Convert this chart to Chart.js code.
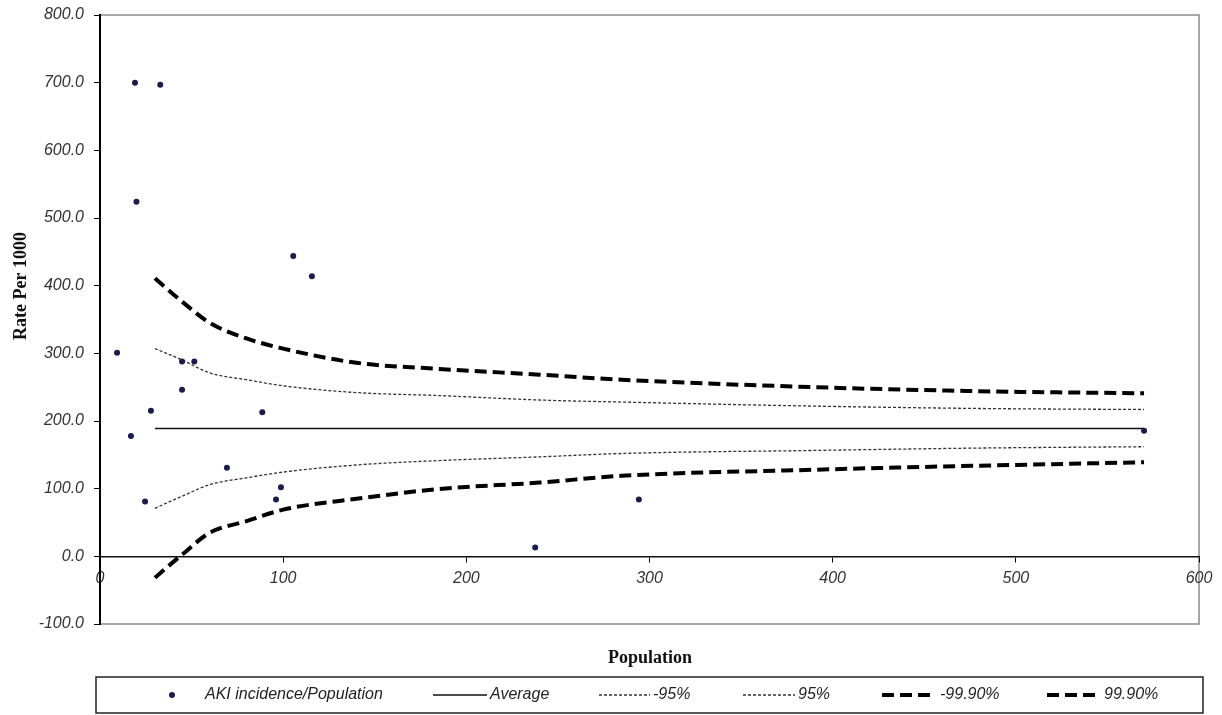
<!DOCTYPE html>
<html>
<head>
<meta charset="utf-8">
<script src="https://cdn.jsdelivr.net/npm/chart.js@4.4.1/dist/chart.umd.min.js"></script>
<style>
  html, body { margin: 0; padding: 0; background: #fff; }
  canvas { display: block; }
</style>
</head>
<body>
<canvas id="funnelChart" width="1222" height="715"></canvas>
<script>
// AKI incidence per practice (population, rate per 1000)
const akiPopulation = [9.3, 19.1, 19.9, 32.9, 16.9, 24.6, 27.8, 44.8, 51.5, 44.8, 69.3, 88.6, 96.1, 98.8, 105.5, 115.7, 237.6, 294.2, 570];
const akiRate = [301, 700, 524, 697, 178, 81, 215, 288, 288, 246, 131, 213, 84, 102, 444, 414, 13, 84, 185.5];

// average line
const avgPopulation = [30, 570];
const avgRate = [189, 189];

// control limits
const limitPopulation = [30, 45, 60, 80, 100, 140, 185, 240, 285, 390, 480, 570];
const lower95 = [71, 89, 106, 116, 124.5, 135, 141.5, 147, 152, 156.5, 160, 162];
const upper95 = [307, 290, 271, 261, 252, 242, 237.6, 231, 228, 222, 218.5, 217];
const lower999 = [-31.5, 3, 35, 52, 69, 85, 99.5, 109, 119, 128, 134, 139];
const upper999 = [411, 376, 345, 322, 307, 286, 277, 268.5, 261, 250, 244, 241];

const yTicks = [-100, 0, 100, 200, 300, 400, 500, 600, 700, 800];
const xTicks = [0, 100, 200, 300, 400, 500, 600];

const toPoints = (xs, ys) => xs.map((x, i) => ({ x: x, y: ys[i] }));

const tickFont = { family: 'Liberation Sans, Arial, sans-serif', size: 16, style: 'italic' };

// frame, axis titles and the boxed legend at the bottom
const decorations = {
  id: 'decorations',
  beforeDraw(chart) {
    const { ctx, chartArea: a } = chart;
    ctx.save();
    ctx.fillStyle = '#fff';
    ctx.fillRect(0, 0, chart.width, chart.height);
    ctx.strokeStyle = '#8a8a8a';
    ctx.lineWidth = 1.5;
    ctx.strokeRect(a.left, a.top, a.right - a.left, a.bottom - a.top);
    ctx.restore();
  },
  afterDraw(chart) {
    const { ctx } = chart;
    ctx.save();
    ctx.fillStyle = '#111';
    ctx.font = 'bold 18px "Liberation Serif", "Times New Roman", serif';
    ctx.textAlign = 'center';
    ctx.textBaseline = 'middle';
    ctx.fillText('Population', 650, 658);
    ctx.translate(21, 286);
    ctx.rotate(-Math.PI / 2);
    ctx.fillText('Rate Per 1000', 0, 0);
    ctx.restore();

    // legend box
    ctx.save();
    ctx.strokeStyle = '#222';
    ctx.lineWidth = 1.5;
    ctx.strokeRect(96, 677, 1107, 36);
    const cy = 695;
    const slots = [
      { x: 172, w: 0, tx: 205 },
      { x: 433, w: 54, tx: 490 },
      { x: 599, w: 51, tx: 653 },
      { x: 743, w: 52, tx: 798 },
      { x: 882, w: 48, tx: 940 },
      { x: 1047, w: 48, tx: 1104 }
    ];
    chart.data.datasets.forEach((ds, i) => {
      const s = slots[i];
      if (ds.showLine === false) {
        ctx.fillStyle = ds.backgroundColor;
        ctx.beginPath();
        ctx.arc(s.x, cy, 3, 0, Math.PI * 2);
        ctx.fill();
      } else {
        ctx.strokeStyle = ds.borderColor;
        ctx.lineWidth = ds.borderWidth;
        ctx.setLineDash(ds.borderDash || []);
        ctx.beginPath();
        ctx.moveTo(s.x, cy);
        ctx.lineTo(s.x + s.w, cy);
        ctx.stroke();
        ctx.setLineDash([]);
      }
      ctx.fillStyle = '#222';
      ctx.font = 'italic 16px "Liberation Sans", Arial, sans-serif';
      ctx.textAlign = 'left';
      ctx.textBaseline = 'middle';
      ctx.fillText(ds.label, s.tx, cy);
    });
    ctx.restore();
  }
};

new Chart(document.getElementById('funnelChart').getContext('2d'), {
  type: 'scatter',
  data: {
    datasets: [
      {
        label: 'AKI incidence/Population',
        data: toPoints(akiPopulation, akiRate),
        showLine: false,
        pointRadius: 3,
        pointHoverRadius: 3,
        backgroundColor: '#1c1c4a',
        borderColor: '#1c1c4a',
        borderWidth: 0
      },
      {
        label: 'Average',
        data: toPoints(avgPopulation, avgRate),
        showLine: true,
        pointRadius: 0,
        borderColor: '#111',
        borderWidth: 1.5
      },
      {
        label: '-95%',
        data: toPoints(limitPopulation, lower95),
        showLine: true,
        pointRadius: 0,
        borderColor: '#333',
        borderWidth: 1.3,
        borderDash: [3, 2],
        cubicInterpolationMode: 'monotone'
      },
      {
        label: '95%',
        data: toPoints(limitPopulation, upper95),
        showLine: true,
        pointRadius: 0,
        borderColor: '#333',
        borderWidth: 1.3,
        borderDash: [3, 2],
        cubicInterpolationMode: 'monotone'
      },
      {
        label: '-99.90%',
        data: toPoints(limitPopulation, lower999),
        showLine: true,
        pointRadius: 0,
        borderColor: '#000',
        borderWidth: 4,
        borderDash: [12, 6],
        cubicInterpolationMode: 'monotone'
      },
      {
        label: '99.90%',
        data: toPoints(limitPopulation, upper999),
        showLine: true,
        pointRadius: 0,
        borderColor: '#000',
        borderWidth: 4,
        borderDash: [12, 6],
        cubicInterpolationMode: 'monotone'
      }
    ]
  },
  options: {
    responsive: false,
    animation: false,
    devicePixelRatio: 1,
    layout: { padding: { left: 0, top: 15, right: 23, bottom: 91 } },
    plugins: {
      legend: { display: false },
      tooltip: { enabled: false }
    },
    scales: {
      x: {
        type: 'linear',
        position: { y: 0 },
        min: 0,
        max: 600,
        afterBuildTicks: s => { s.ticks = xTicks.map(v => ({ value: v })); },
        ticks: { font: tickFont, color: '#333', padding: 8, maxRotation: 0 },
        grid: { drawOnChartArea: false, drawTicks: true, tickLength: 5, color: '#000' },
        border: { display: true, color: '#111', width: 1.5 }
      },
      y: {
        type: 'linear',
        position: 'left',
        min: -100,
        max: 800,
        afterBuildTicks: s => { s.ticks = yTicks.map(v => ({ value: v })); },
        afterFit: s => { s.width = 100; s.paddingTop = 0; s.paddingBottom = 0; },
        ticks: {
          font: tickFont,
          color: '#333',
          padding: 10,
          callback: v => v.toFixed(1)
        },
        grid: { drawOnChartArea: false, drawTicks: true, tickLength: 6, color: '#000' },
        border: { display: true, color: '#000', width: 2 }
      }
    }
  },
  plugins: [decorations]
});
</script>
</body>
</html>
